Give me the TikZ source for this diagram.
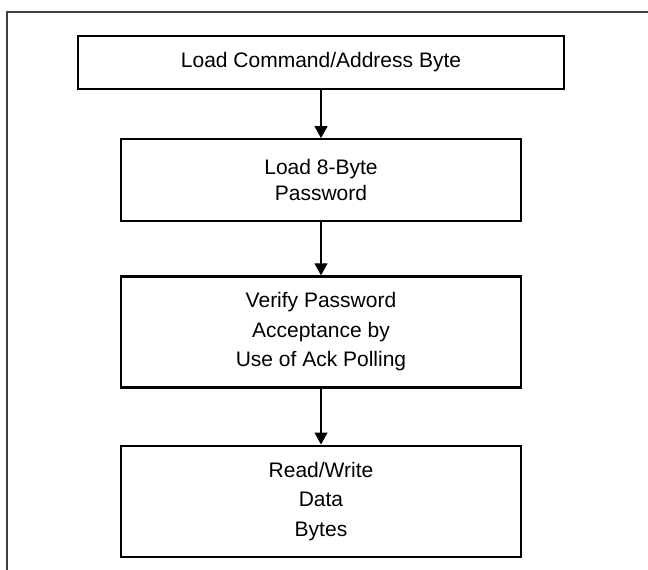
\documentclass[tikz,border=0pt]{standalone}
\usepackage{fontspec}
\setmainfont{Liberation Sans}
\usetikzlibrary{positioning,arrows.meta}

\begin{document}
\begin{tikzpicture}[x=1pt,y=1pt,
    stepbox/.style={draw, line width=2.2pt, align=center, inner sep=0pt,
        minimum width=400pt, font=\fontsize{21}{29.5}\selectfont},
    flow/.style={-{Triangle[length=12pt,width=13pt]}, line width=1.3pt}]
    \useasboundingbox (0,0) rectangle (648,-570);
    \draw[line width=1.6pt, black!75] (7,-575) -- (7,-12) -- (655,-12); % frame
    \node[stepbox, minimum width=486pt, minimum height=53pt] (load) at (321,-62.5) {Load Command/Address Byte};
    \node[stepbox, below=48pt of load, minimum height=82pt,
        font=\fontsize{21}{26.5}\selectfont] (pwd) {Load 8-Byte\\Password};
    \node[stepbox, below=53pt of pwd, minimum height=111pt] (verify) {Verify Password\\Acceptance by\\Use of Ack Polling};
    \node[stepbox, below=56pt of verify, minimum height=111pt] (rw) {Read/Write\\Data\\Bytes};
    \draw[flow] (load) -- (pwd);
    \draw[flow] (pwd) -- (verify);
    \draw[flow] (verify) -- (rw);
\end{tikzpicture}
\end{document}
